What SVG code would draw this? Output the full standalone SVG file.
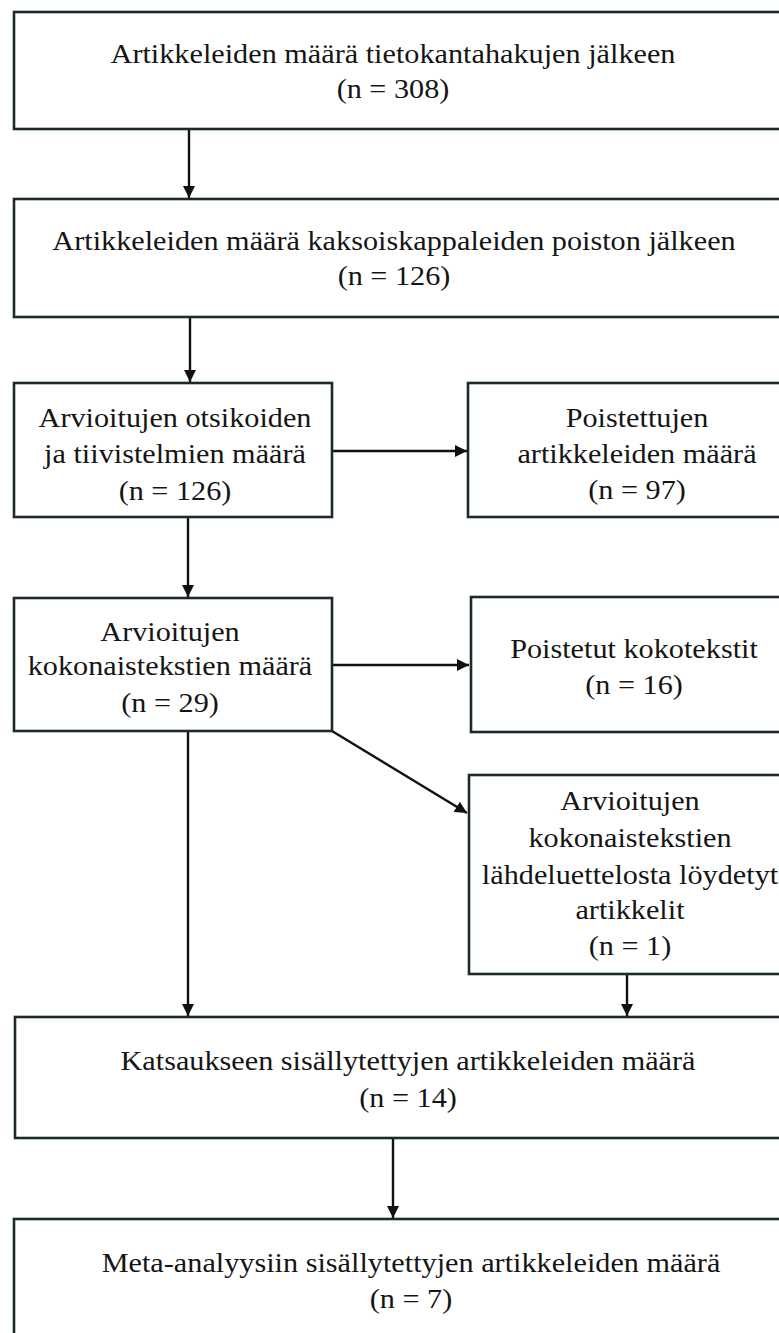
<svg xmlns="http://www.w3.org/2000/svg" width="779" height="1333" viewBox="0 0 779 1333">
<style>
.box{fill:#ffffff;stroke:#1c2a2c;stroke-width:2.6}
.t{font-family:"Liberation Serif","Times New Roman",serif;font-size:27px;fill:#151515;text-anchor:middle}
.c{stroke:#111;stroke-width:2.4;fill:none;marker-end:url(#ah)}
</style>
<defs>
<marker id="ah" markerUnits="userSpaceOnUse" markerWidth="12" markerHeight="12" viewBox="0 0 10 10" refX="10" refY="5" orient="auto">
<path d="M0,0 L10,5 L0,10 z" fill="#111"/>
</marker>
</defs>
<rect width="779" height="1333" fill="#ffffff"/>
<g id="connectors">
<line class="c" x1="189" y1="130" x2="189" y2="198"/>
<line class="c" x1="190" y1="317" x2="190" y2="382"/>
<line class="c" x1="188" y1="517" x2="188" y2="597"/>
<line class="c" x1="332" y1="451" x2="467" y2="451"/>
<line class="c" x1="332" y1="665" x2="469" y2="665"/>
<line class="c" x1="332" y1="731" x2="467" y2="813"/>
<line class="c" x1="188" y1="731" x2="188" y2="1016"/>
<line class="c" x1="627" y1="974" x2="627" y2="1016"/>
<line class="c" x1="393" y1="1138" x2="393" y2="1218"/>
</g>
<g id="n1">
<rect class="box" x="14" y="12" width="780" height="117"/>
<g transform="translate(393 0) scale(1.12 1)"><text class="t" x="0" y="63">Artikkeleiden määrä tietokantahakujen jälkeen</text><text class="t" x="0" y="98">(n = 308)</text></g>
</g>
<g id="n2">
<rect class="box" x="14" y="199" width="780" height="118"/>
<g transform="translate(394 0) scale(1.12 1)"><text class="t" x="0" y="250">Artikkeleiden määrä kaksoiskappaleiden poiston jälkeen</text><text class="t" x="0" y="285">(n = 126)</text></g>
</g>
<g id="n3">
<rect class="box" x="14" y="383" width="318" height="134"/>
<g transform="translate(175 0) scale(1.12 1)"><text class="t" x="0" y="427">Arvioitujen otsikoiden</text><text class="t" x="0" y="463">ja tiivistelmien määrä</text><text class="t" x="0" y="500">(n = 126)</text></g>
</g>
<g id="n4">
<rect class="box" x="468" y="383" width="330" height="134"/>
<g transform="translate(637 0) scale(1.12 1)"><text class="t" x="0" y="427">Poistettujen</text><text class="t" x="0" y="463">artikkeleiden määrä</text><text class="t" x="0" y="499">(n = 97)</text></g>
</g>
<g id="n5">
<rect class="box" x="14" y="598" width="318" height="133"/>
<g transform="translate(170 0) scale(1.12 1)"><text class="t" x="0" y="641">Arvioitujen</text><text class="t" x="0" y="675">kokonaistekstien määrä</text><text class="t" x="0" y="712">(n = 29)</text></g>
</g>
<g id="n6">
<rect class="box" x="471" y="597" width="330" height="135"/>
<g transform="translate(634 0) scale(1.12 1)"><text class="t" x="0" y="658">Poistetut kokotekstit</text><text class="t" x="0" y="694">(n = 16)</text></g>
</g>
<g id="n7">
<rect class="box" x="469" y="775" width="330" height="199"/>
<g transform="translate(630 0) scale(1.12 1)"><text class="t" x="0" y="810">Arvioitujen</text><text class="t" x="0" y="847">kokonaistekstien</text><text class="t" x="0" y="884">lähdeluettelosta löydetyt</text><text class="t" x="0" y="919">artikkelit</text><text class="t" x="0" y="955">(n = 1)</text></g>
</g>
<g id="n8">
<rect class="box" x="15" y="1017" width="780" height="121"/>
<g transform="translate(408 0) scale(1.12 1)"><text class="t" x="0" y="1070">Katsaukseen sisällytettyjen artikkeleiden määrä</text><text class="t" x="0" y="1107">(n = 14)</text></g>
</g>
<g id="n9">
<rect class="box" x="14" y="1219" width="780" height="130"/>
<g transform="translate(411 0) scale(1.12 1)"><text class="t" x="0" y="1272">Meta-analyysiin sisällytettyjen artikkeleiden määrä</text><text class="t" x="0" y="1308">(n = 7)</text></g>
</g>
</svg>
